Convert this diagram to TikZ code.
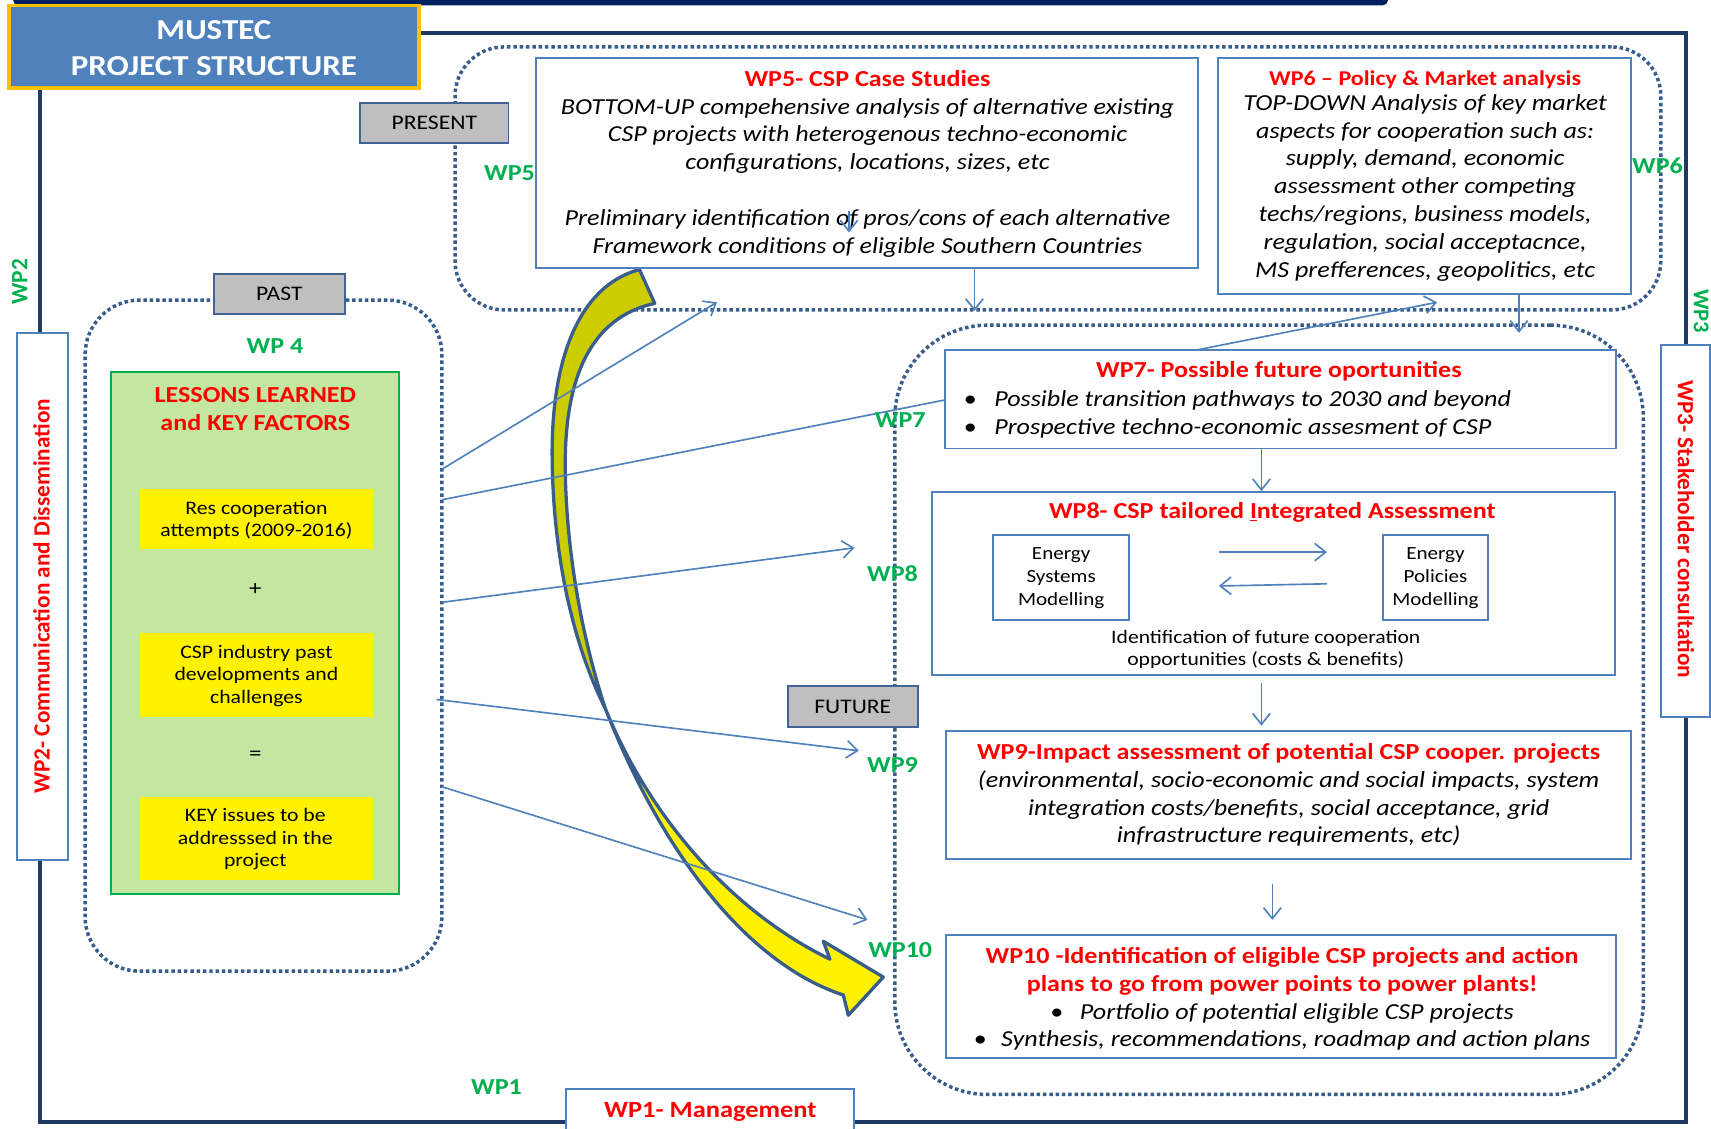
\documentclass[tikz,border=0pt]{standalone}
\usepackage{fontspec}
\setmainfont{Carlito}[FakeStretch=1.138]
\newfontfamily\vfont{Carlito}
\usetikzlibrary{arrows.meta}
\definecolor{navy}{RGB}{31,56,100}
\definecolor{bandc}{RGB}{0,32,96}
\definecolor{dotc}{RGB}{56,93,138}
\definecolor{bbl}{RGB}{79,129,189}
\definecolor{wpred}{RGB}{255,0,0}
\definecolor{wpgreen}{RGB}{0,176,80}
\definecolor{greyfill}{RGB}{191,191,191}
\definecolor{greyedge}{RGB}{65,100,150}
\definecolor{lgreen}{RGB}{195,230,160}
\definecolor{olivec}{RGB}{204,204,0}
\definecolor{goldc}{RGB}{255,192,0}
\definecolor{ttlblue}{RGB}{79,129,189}
\begin{document}
\begin{tikzpicture}[x=1pt,y=-1pt,
  sz/.style 2 args={minimum width=#1pt,minimum height=#2pt},
  wpbox/.style={draw=bbl,line width=1.8pt,fill=white,inner sep=0pt},
  region/.style={draw=dotc,line width=3.2pt,dash pattern=on 3.2pt off 2.6pt,inner sep=0pt},
  greylbl/.style={draw=greyedge,line width=1.8pt,fill=greyfill,inner sep=0pt,font=\fontsize{19}{22}\selectfont},
  wplbl/.style={text=wpgreen,inner sep=0pt,font=\fontsize{21}{25}\selectfont\bfseries},
  boxtxt/.style={inner sep=0pt,align=center,font=\fontsize{21}{25.5}\selectfont},
  smalltxt/.style={inner sep=0pt,align=center,font=\fontsize{17.5}{20.5}\selectfont},
  conn/.style={draw=bbl,line width=1.5pt},
  arr/.style={conn,-{Straight Barb[length=10pt,width=16pt]}},
  vlbl/.style={text=wpred,inner sep=0pt,font=\vfont\fontsize{21.3}{25}\selectfont\bfseries}
]
\useasboundingbox (0,0) rectangle (1568,1034);
\fill[white] (0,0) rectangle (1568,1034);
\clip (0,0) rectangle (1568,1034);

% top band and frame
\fill[bandc,rounded corners=5pt] (12,-10) rectangle (1272,5);
\draw[navy,line width=3.5pt] (37,30) rectangle (1545,1028);

% dotted regions
\node[region,rounded corners=45pt,sz={1105}{241}] (present) at (969.5,163.5) {};
\node[region,rounded corners=50pt,sz={327}{615}] (past) at (241.5,582.5) {};
\node[region,rounded corners=85pt,sz={686}{705}] (future) at (1163,650.5) {};

% big curved arrow
\filldraw[fill=olivec,draw=dotc,line width=3pt,line join=round]
  (586,247) .. controls (530,262) and (505,330) .. (506,420)
  .. controls (507,510) and (525,590) .. (555,650)
  .. controls (535,590) and (519,510) .. (518,430)
  .. controls (517,340) and (545,290) .. (600,278) -- cycle;
\filldraw[fill=yellow,draw=dotc,line width=3pt,line join=round]
  (555,650) .. controls (600,760) and (680,840) .. (760.6,879)
  -- (754.5,862.6) -- (809.5,895.4) -- (777.4,930.4) -- (772.8,911.8)
  .. controls (690,885) and (610,790) .. (555,650) -- cycle;

% connectors from PAST
\coordinate (c1s) at (405,430); \coordinate (c1e) at (657,277);
\coordinate (c2s) at (405,458); \coordinate (c2e) at (1317,277);
\coordinate (c3s) at (405,552); \coordinate (c3e) at (783,502);
\coordinate (c4s) at (400,641); \coordinate (c4e) at (787,688);
\coordinate (c5s) at (405,721); \coordinate (c5e) at (795,843);
\draw[arr] (c1s) -- (c1e);
\draw[arr] (c2s) -- (c2e);
\draw[arr] (c3s) -- (c3e);
\draw[arr] (c4s) -- (c4e);
\draw[arr] (c5s) -- (c5e);

% boxes
\node[wpbox,sz={607}{193}] (wp5) at (794.5,149.5) {};
\node[wpbox,sz={379}{216}] (wp6) at (1305.5,161) {};
\node[wpbox,sz={615}{90}] (wp7) at (1173.5,366) {};
\node[wpbox,sz={626}{168}] (wp8) at (1167,535) {};
\node[wpbox,sz={125}{78}] (esm) at (972.5,529) {};
\node[wpbox,sz={97}{78}] (epm) at (1315.5,529) {};
\node[wpbox,sz={628}{117}] (wp9) at (1181,728.5) {};
\node[wpbox,sz={614}{113}] (wp10) at (1174,913.5) {};
\node[draw=wpgreen,line width=2pt,fill=lgreen,sz={264}{478},inner sep=0pt] (wp4) at (234,580) {};
\node[fill=yellow,sz={214}{55},inner sep=0pt] (y1) at (235,475.5) {};
\node[fill=yellow,sz={214}{77},inner sep=0pt] (y2) at (235,618.5) {};
\node[fill=yellow,sz={214}{76},inner sep=0pt] (y3) at (235,768) {};
\node[wpbox,sz={46}{483}] (wp2) at (39,546.5) {};
\node[wpbox,sz={45}{341}] (wp3) at (1544.5,486.5) {};
\node[wpbox,sz={264}{47}] (wp1) at (651,1021.5) {};

% box texts
\node[boxtxt] (wp5t) at (795,150) {{\color{wpred}\bfseries WP5- CSP Case Studies}\\
  {\itshape BOTTOM-UP compehensive analysis of alternative existing}\\
  {\itshape CSP projects with heterogenous techno-economic}\\
  {\itshape configurations, locations, sizes, etc}\\[25.5pt]
  {\itshape Preliminary identification of pros/cons of each alternative}\\
  {\itshape Framework conditions of eligible Southern Countries}};
\node[boxtxt] (wp6t) at (1306,161) {{\color{wpred}\bfseries\fontsize{19.3}{25.5}\selectfont WP6 – Policy \& Market analysis}\\[-2.5pt]
  {\itshape TOP-DOWN Analysis of key market}\\
  {\itshape aspects for cooperation such as:}\\
  {\itshape supply, demand, economic}\\
  {\itshape assessment other competing}\\
  {\itshape techs/regions, business models,}\\
  {\itshape regulation, social acceptacnce,}\\
  {\itshape MS prefferences, geopolitics, etc}};
\node[boxtxt,text=wpred,font=\fontsize{21}{25.5}\selectfont\bfseries] (wp7t) at (1172,340) {WP7- Possible future oportunities};
\node[boxtxt,align=left,anchor=west,font=\fontsize{21}{25.5}\selectfont\itshape] (wp7b) at (883,379.5)
  {\makebox[28pt][l]{\upshape\textbullet}Possible transition pathways to 2030 and beyond\\
   \makebox[28pt][l]{\upshape\textbullet}Prospective techno-economic assesment of CSP};
\node[boxtxt,text=wpred,font=\fontsize{21}{25.5}\selectfont\bfseries] (wp8t) at (1166,470) {WP8- CSP tailored \underline{I}ntegrated Assessment};
\node[smalltxt,font=\fontsize{17}{21}\selectfont] (esmt) at (972.5,530) {Energy\\Systems\\Modelling};
\node[smalltxt,font=\fontsize{17}{21}\selectfont] (epmt) at (1315.5,530) {Energy\\Policies\\Modelling};
\node[smalltxt,font=\fontsize{17.4}{20}\selectfont] (wp8b) at (1160,595) {Identification of future cooperation\\opportunities (costs \& benefits)};
\node[boxtxt] (wp9t) at (1181,728.5) {{\color{wpred}\bfseries WP9-Impact assessment of potential CSP cooper. projects}\\
  {\itshape (environmental, socio-economic and social impacts, system}\\
  {\itshape integration costs/benefits, social acceptance, grid}\\
  {\itshape infrastructure requirements, etc)}};
\node[boxtxt] (wp10t) at (1175,915.5) {{\color{wpred}\bfseries WP10 -Identification of eligible CSP projects and action}\\
  {\color{wpred}\bfseries plans to go from power points to power plants!}\\
  {\itshape\makebox[27pt][l]{\upshape\textbullet}Portfolio of potential eligible CSP projects}\\
  {\itshape\makebox[25pt][l]{\upshape\textbullet}Synthesis, recommendations, roadmap and action plans}};

% WP4 texts
\node[boxtxt,text=wpred,font=\fontsize{21}{26}\selectfont\bfseries] (wp4t) at (234,375) {LESSONS LEARNED\\and KEY FACTORS};
\node[smalltxt] (y1t) at (235,477) {Res cooperation\\attempts (2009-2016)};
\node[smalltxt,font=\fontsize{20}{20.5}\selectfont] (plus) at (234,540) {+};
\node[smalltxt] (y2t) at (235,619.5) {CSP industry past\\developments and\\challenges};
\node[smalltxt,font=\fontsize{20}{20.5}\selectfont] (eq) at (234,693) {=};
\node[smalltxt] (y3t) at (234,769) {KEY issues to be\\addresssed in the\\project};

% side / bottom texts
\node[vlbl,rotate=90] (wp2t) at (38,546.5) {WP2- Communication and Dissemination};
\node[vlbl,rotate=-90] (wp3t) at (1545,485) {WP3- Stakeholder consultation};
\node[boxtxt,text=wpred,font=\fontsize{21.3}{25}\selectfont\bfseries] (wp1t) at (651,1019) {WP1- Management};

% internal arrows
\coordinate (v1e) at (893,285); \draw[arr] (wp5.south -| v1e) -- (v1e);
\coordinate (v2e) at (1392,305); \draw[arr] (wp6.south -| v2e) -- (v2e);
\coordinate (v3x) at (1156,0); \draw[arr] (wp7.south -| v3x) -- (wp8.north -| v3x);
\coordinate (v4s) at (1156,626); \coordinate (v4e) at (1156,665); \draw[arr] (v4s) -- (v4e);
\coordinate (v5s) at (1166,810); \coordinate (v5e) at (1166,843); \draw[arr] (v5s) -- (v5e);
\coordinate (v6s) at (778,193); \coordinate (v6e) at (778,213); \draw[arr] (v6s) -- (v6e);
\coordinate (h1s) at (1117,506); \coordinate (h1e) at (1216,506); \draw[arr] (h1s) -- (h1e);
\coordinate (h2s) at (1216,535); \coordinate (h2e) at (1117,537); \draw[arr] (h2s) -- (h2e);

% grey labels
\node[greylbl,sz={136}{37}] (lpresent) at (398,112.5) {PRESENT};
\node[greylbl,sz={120}{37}] (lpast) at (256,269.5) {PAST};
\node[greylbl,sz={119}{37}] (lfuture) at (781.5,647.5) {FUTURE};

% green labels
\node[wplbl] (g5) at (467,159) {WP5};
\node[wplbl] (g6) at (1519,152) {WP6};
\node[wplbl] (g4) at (252,317) {WP 4};
\node[wplbl] (g7) at (825,385) {WP7};
\node[wplbl] (g8) at (818,526) {WP8};
\node[wplbl] (g9) at (818,701) {WP9};
\node[wplbl] (g10) at (825,871) {WP10};
\node[wplbl] (g1) at (455,996) {WP1};
\node[wplbl,font=\vfont\fontsize{21.5}{25}\selectfont\bfseries,rotate=90] (g2) at (18,258) {WP2};
\node[wplbl,font=\vfont\fontsize{20.7}{25}\selectfont\bfseries,rotate=-90] (g3) at (1559,285) {WP3};

% title
\node[fill=ttlblue,draw=goldc,line width=3.5pt,sz={376}{76},inner sep=0pt] (title) at (196,43) {};
\node[align=center,text=white,inner sep=0pt,font=\fontsize{26.5}{33}\selectfont\bfseries] (titlet) at (196,44) {MUSTEC\\PROJECT STRUCTURE};
\end{tikzpicture}
\end{document}
